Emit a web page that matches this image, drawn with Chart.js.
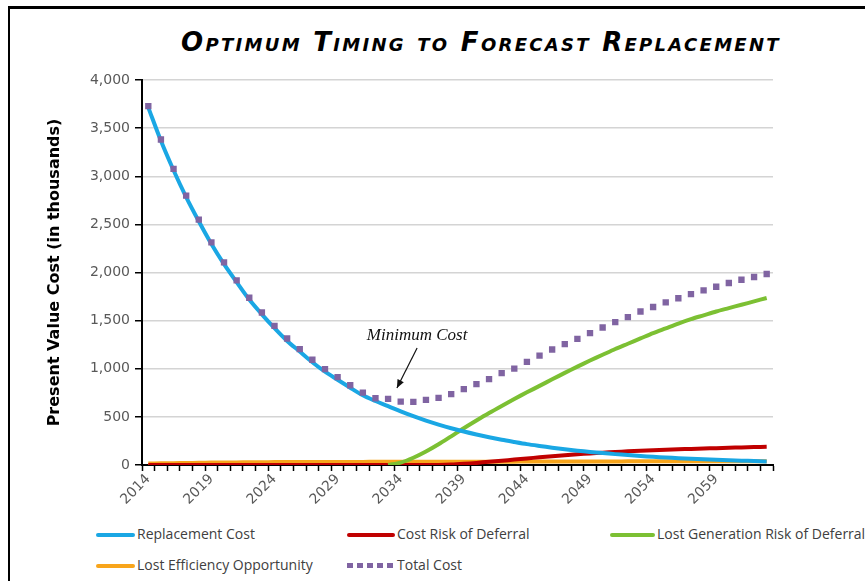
<!DOCTYPE html>
<html lang="en">
<head>
    <meta charset="UTF-8">
    <title>Optimum Timing to Forecast Replacement</title>
    <script src="https://cdn.jsdelivr.net/npm/chart.js"></script>
    <style>
        body { margin: 0; background: #fff; }
        #frame { position: relative; width: 865px; height: 581px; overflow: hidden; }
        #border { position: absolute; left: 8px; top: 6px; right: -10px; bottom: -10px;
                  border-left: 2px solid #000; border-top: 3px solid #000; }
        #titulo { position: absolute; left: 0; width: 962px; top: 27px; text-align: center;
                  font: italic small-caps bold 26px "DejaVu Sans"; letter-spacing: 2.3px; color: #000; }
        #wrap { position: absolute; left: 0; top: 0; width: 865px; height: 520px; }
        .leyenda { position: absolute; font: 14px "Open Sans"; color: #404040; white-space: nowrap; }
        .muestra { position: absolute; height: 4px; }
    </style>
</head>
<body>
<div id="frame">
    <div id="border"></div>
    <div id="titulo">Optimum Timing to Forecast Replacement</div>
    <div id="wrap"><canvas id="grafico"></canvas></div>
    <div id="leyenda"></div>
</div>

<script>
    // Años (categorías)
    const years = ['2014','2015','2016','2017','2018','2019','2020','2021','2022','2023',
                   '2024','2025','2026','2027','2028','2029','2030','2031','2032','2033',
                   '2034','2035','2036','2037','2038','2039','2040','2041','2042','2043',
                   '2044','2045','2046','2047','2048','2049','2050','2051','2052','2053',
                   '2054','2055','2056','2057','2058','2059','2060','2061','2062','2063'];

    // Series (miles)
    const replacementCost = [3713,3368,3062,2783,2532,2296,2087,1900,1719,1565,
                             1421,1289,1179,1068,970,886,802,724,665,612,
                             557,507,461,420,382,348,317,288,262,239,
                             217,198,180,164,149,136,124,113,103,94,
                             85,78,71,65,59,54,49,45,41,37];
    const costRiskDeferral = [0,0,0,0,0,0,0,0,0,0,
                              0,0,0,0,0,0,0,0,0,0,
                              0,0,0,0,4,12,22,33,44,56,
                              68,80,91,101,111,120,128,135,142,148,
                              153,158,163,167,171,175,179,183,186,189];
    const lostGeneration = [null,null,null,null,null,null,null,null,null,null,
                            null,null,null,null,null,null,null,null,null,0,
                            25,75,140,215,298,382,462,540,614,686,
                            755,822,890,957,1022,1085,1145,1205,1260,1315,
                            1370,1420,1470,1515,1555,1595,1630,1665,1700,1735];
    const lostEfficiency = [15,17,19,21,23,25,26,27,28,29,
                            30,30,31,31,31,32,32,32,33,33,
                            33,33,34,34,34,34,35,35,35,35,
                            36,36,36,36,37,37,37,37,38,38,
                            38,38,39,39,39,39,40,40,40,40];
    const totalCost = [3728,3382,3077,2799,2549,2313,2105,1918,1738,1585,
                       1446,1314,1204,1093,996,913,829,752,694,687,
                       659,656,676,697,736,788,840,892,954,1002,
                       1072,1137,1200,1256,1311,1370,1429,1485,1537,1595,
                       1641,1690,1733,1776,1814,1852,1891,1925,1953,1984];

    const yTicks = [0, 500, 1000, 1500, 2000, 2500, 3000, 3500, 4000];

    const colores = {
        replacement: '#1aa7e4',
        risk: '#c00000',
        generation: '#7cc033',
        efficiency: '#f8a51b',
        total: '#8064a2'
    };

    // Nota "Minimum Cost" (en unidades de datos)
    const nota = { texto: 'Minimum Cost', x: 21.3, y: 1345, flechaDesde: [21.3, 1215], flechaHasta: [19.7, 800] };

    const notaPlugin = {
        id: 'notaMinimo',
        afterDatasetsDraw(chart) {
            const { ctx, scales: { x, y } } = chart;
            ctx.save();
            ctx.font = 'italic 17px "Liberation Serif"';
            ctx.fillStyle = '#111';
            ctx.textAlign = 'center';
            ctx.textBaseline = 'middle';
            ctx.fillText(nota.texto, x.getPixelForValue(nota.x), y.getPixelForValue(nota.y));
            const x1 = x.getPixelForValue(nota.flechaDesde[0]), y1 = y.getPixelForValue(nota.flechaDesde[1]);
            const x2 = x.getPixelForValue(nota.flechaHasta[0]), y2 = y.getPixelForValue(nota.flechaHasta[1]);
            ctx.strokeStyle = '#111';
            ctx.lineWidth = 1.2;
            ctx.beginPath(); ctx.moveTo(x1, y1); ctx.lineTo(x2, y2); ctx.stroke();
            const ang = Math.atan2(y2 - y1, x2 - x1);
            ctx.beginPath();
            ctx.moveTo(x2, y2);
            ctx.lineTo(x2 - 9 * Math.cos(ang - 0.4), y2 - 9 * Math.sin(ang - 0.4));
            ctx.lineTo(x2 - 9 * Math.cos(ang + 0.4), y2 - 9 * Math.sin(ang + 0.4));
            ctx.closePath();
            ctx.fillStyle = '#111';
            ctx.fill();
            ctx.restore();
        }
    };

    const ctx = document.getElementById('grafico').getContext('2d');
    new Chart(ctx, {
        type: 'line',
        data: {
            labels: years,
            datasets: [
                { label: 'Total Cost', data: totalCost, showLine: false, pointStyle: 'rect',
                  pointRadius: 4.5, pointBackgroundColor: colores.total, pointBorderWidth: 0, order: 0 },
                { label: 'Replacement Cost', data: replacementCost, borderColor: colores.replacement,
                  borderWidth: 4, pointRadius: 0, tension: 0.3, order: 1 },
                { label: 'Cost Risk of Deferral', data: costRiskDeferral, borderColor: colores.risk,
                  borderWidth: 4, pointRadius: 0, tension: 0.3, order: 3 },
                { label: 'Lost Generation Risk of Deferral', data: lostGeneration, borderColor: colores.generation,
                  borderWidth: 4, pointRadius: 0, tension: 0.3, order: 2, spanGaps: false },
                { label: 'Lost Efficiency Opportunity', data: lostEfficiency, borderColor: colores.efficiency,
                  borderWidth: 4, pointRadius: 0, tension: 0.3, order: 4 }
            ]
        },
        options: {
            responsive: true,
            maintainAspectRatio: false,
            animation: false,
            layout: { padding: { top: 80, right: 92, bottom: 0, left: 0 } },
            plugins: {
                legend: { display: false },
                tooltip: { enabled: false }
            },
            scales: {
                x: {
                    offset: true,
                    afterFit: (s) => { s.height = 55; },
                    grid: { offset: true, drawOnChartArea: false, tickColor: '#000', tickLength: 6, tickWidth: 1.5 },
                    border: { color: '#000', width: 2 },
                    ticks: {
                        autoSkip: false, minRotation: 45, maxRotation: 45, padding: 0,
                        color: '#595959', font: { family: 'DejaVu Sans', size: 14 },
                        callback: (v, i) => (i % 5 === 0 ? years[i] : '')
                    }
                },
                y: {
                    min: 0, max: 4000,
                    afterFit: (s) => { s.width = 142; },
                    afterBuildTicks: (s) => { s.ticks = yTicks.map(v => ({ value: v })); },
                    grid: { color: '#d4d4d4', lineWidth: 1.5, tickColor: '#000', tickLength: 7 },
                    border: { color: '#000', width: 2 },
                    ticks: { color: '#595959', padding: 5, font: { family: 'DejaVu Sans', size: 14 } },
                    title: {
                        display: true, text: 'Present Value Cost (in thousands)', color: '#000',
                        padding: { top: 45, bottom: 0 },
                        font: { family: 'DejaVu Sans', size: 16, weight: 'bold' }
                    }
                }
            }
        },
        plugins: [notaPlugin]
    });

    // Leyenda en dos filas y tres columnas
    const entradas = [
        { texto: 'Replacement Cost', color: colores.replacement, x: 96, y: 535 },
        { texto: 'Cost Risk of Deferral', color: colores.risk, x: 347, y: 535 },
        { texto: 'Lost Generation Risk of Deferral', color: colores.generation, x: 610, y: 535 },
        { texto: 'Lost Efficiency Opportunity', color: colores.efficiency, x: 96, y: 566 },
        { texto: 'Total Cost', color: colores.total, x: 347, y: 566, punteado: true }
    ];
    const ancho = { 96: 39, 347: 48, 610: 45 };
    const leyenda = document.getElementById('leyenda');
    entradas.forEach(e => {
        const w = ancho[e.x];
        const m = document.createElement('div');
        m.className = 'muestra';
        m.style.left = e.x + 'px';
        m.style.top = (e.y - 2) + 'px';
        m.style.width = w + 'px';
        if (e.punteado) {
            m.style.height = '5px';
            m.style.top = (e.y - 3) + 'px';
            m.style.background = 'repeating-linear-gradient(90deg,' + e.color + ' 0 6px, transparent 6px 10px)';
        } else {
            m.style.background = e.color;
            m.style.borderRadius = '2px';
        }
        leyenda.appendChild(m);
        const t = document.createElement('div');
        t.className = 'leyenda';
        t.textContent = e.texto;
        t.style.left = (e.x + w + 2) + 'px';
        t.style.top = (e.y - 11) + 'px';
        leyenda.appendChild(t);
    });
</script>
</body>
</html>
